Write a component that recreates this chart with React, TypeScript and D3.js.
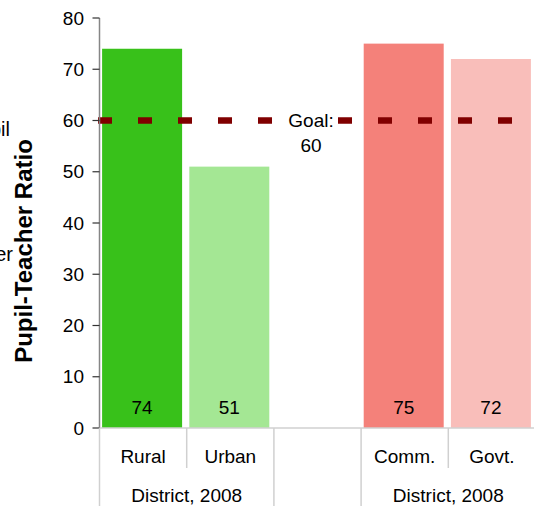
import React from "react";
import * as d3 from "d3";

// Pupil-teacher ratios by district type, 2008
const categories = ["Rural", "Urban", "", "Comm.", "Govt."];
const ratios: (number | null)[] = [74, 51, null, 75, 72];
const barColors = ["#38c11a", "#a4e794", "none", "#f4817a", "#f9beba"];
const groupLabels = ["District, 2008", "", "District, 2008"];
const groupStarts = [0, 2, 3];
const groupEnds = [1, 2, 4];
const yTicks = [0, 10, 20, 30, 40, 50, 60, 70, 80];
const goalValue = 60;
const goalText = ["Goal:", "60"];
const sideLines = ["Pupil", "Teacher"];

const W = 534;
const H = 506;
const FONT = "'Liberation Sans', Arial, Helvetica, sans-serif";

export default function App() {
  const y = d3.scaleLinear().domain([0, 80]).range([428, 18]);
  const x = d3
    .scaleBand<string>()
    .domain(categories.map((_, i) => String(i)))
    .range([99.5, 535.5]);
  const bw = x.bandwidth();
  const barW = 80;
  const axisX = 99.5;
  const baseY = y(0);

  return (
    <div style={{ position: "fixed", left: 0, top: 0 }}>
      <svg width={W} height={H} style={{ display: "block", fontFamily: FONT }}>
        <rect x={0} y={0} width={W} height={H} fill="#fff" />

        {/* side labels running off the left edge */}
        {sideLines.map((t, i) => (
          <text key={t} x={i === 0 ? 10 : 13} y={136 + i * 125} textAnchor="end" fontSize={20} fill="#000">
            {t}
          </text>
        ))}

        {/* y title */}
        <text
          transform={`translate(32,251) rotate(-90)`}
          textAnchor="middle"
          fontSize={24}
          fontWeight="bold"
          fill="#000"
        >
          Pupil-Teacher Ratio
        </text>

        {/* bars */}
        {categories.map((c, i) => {
          const v = ratios[i];
          if (v == null) return null;
          const bx = (x(String(i)) as number) + (bw - barW) / 2 - 1;
          return (
            <g key={i}>
              <rect x={bx} y={y(v)} width={barW} height={baseY - y(v)} fill={barColors[i]} />
              <text x={bx + barW / 2} y={414} textAnchor="middle" fontSize={19} fill="#000">
                {d3.format("d")(v)}
              </text>
            </g>
          );
        })}

        {/* goal line */}
        <line
          x1={98}
          x2={W}
          y1={y(goalValue)}
          y2={y(goalValue)}
          stroke="#800000"
          strokeWidth={6.5}
          strokeDasharray="14 26"
        />
        <rect x={287} y={109} width={48} height={20} fill="#fff" />
        {goalText.map((t, i) => (
          <text key={i} x={311} y={127 + i * 25} textAnchor="middle" fontSize={19} fill="#000">
            {t}
          </text>
        ))}

        {/* y axis */}
        <line x1={axisX} x2={axisX} y1={y(80)} y2={baseY} stroke="#868686" strokeWidth={1.5} />
        {yTicks.map((t) => (
          <g key={t}>
            <line x1={axisX - 7} x2={axisX} y1={y(t)} y2={y(t)} stroke="#333" strokeWidth={1.2} />
            <text x={84} y={y(t)} dy="0.35em" textAnchor="end" fontSize={19} fill="#000">
              {t}
            </text>
          </g>
        ))}

        {/* category axis */}
        <line x1={axisX} x2={W} y1={baseY} y2={baseY} stroke="#d0d0d0" strokeWidth={1.5} />
        {categories.map((c, i) => {
          const left = x(String(i)) as number;
          const isGroupStart = groupStarts.includes(i);
          return (
            <g key={i}>
              <line
                x1={left}
                x2={left}
                y1={baseY}
                y2={isGroupStart ? H : 468}
                stroke="#d0d0d0"
                strokeWidth={1.5}
              />
              <text x={left + bw / 2} y={463} textAnchor="middle" fontSize={19} fill="#000">
                {c}
              </text>
            </g>
          );
        })}
        {groupLabels.map((g, i) => {
          const l = x(String(groupStarts[i])) as number;
          const r = (x(String(groupEnds[i])) as number) + bw;
          return (
            <text key={i} x={(l + r) / 2} y={502} textAnchor="middle" fontSize={19} fill="#000">
              {g}
            </text>
          );
        })}
      </svg>
    </div>
  );
}
